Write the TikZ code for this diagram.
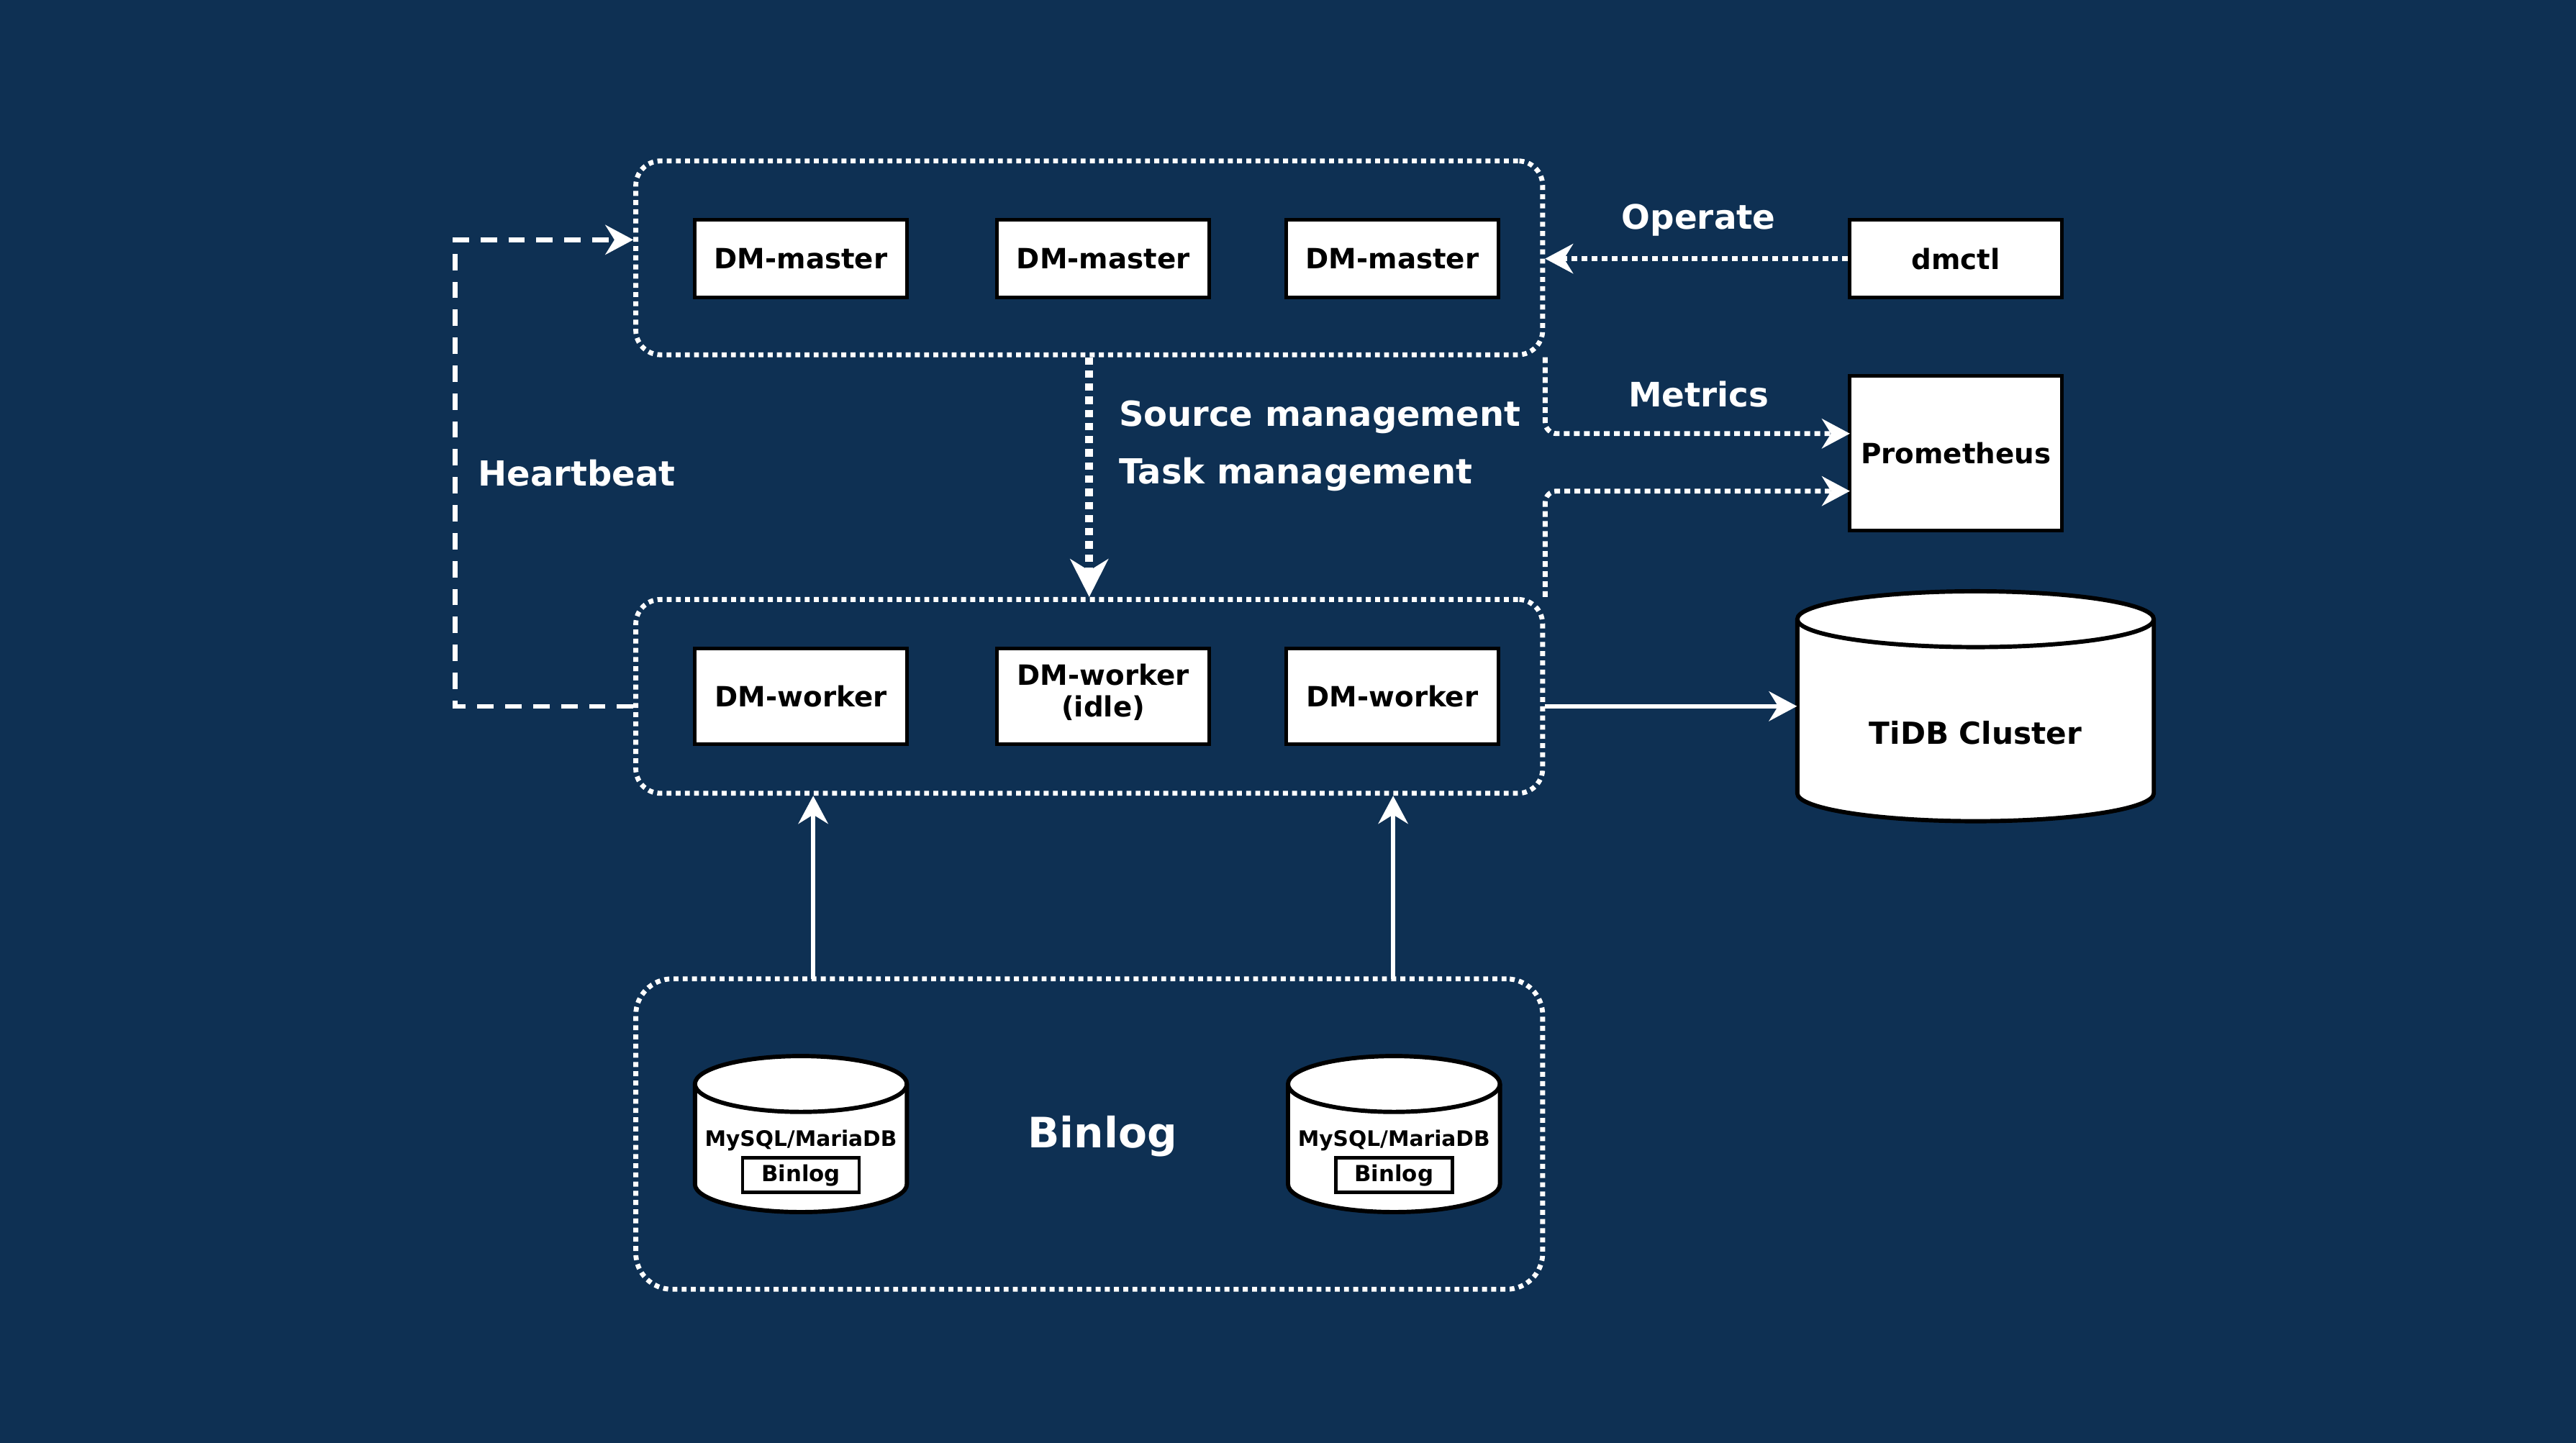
\documentclass[tikz,border=0pt]{standalone}
\usepackage{fontspec}
\setmainfont{DejaVu Sans}
\usetikzlibrary{arrows.meta}
\definecolor{bgc}{HTML}{0E3053}
\newcommand\mycyl[6]{%
  \draw[cylst] (#1,{#2+#6}) -- (#1,{#4-#6}) arc[start angle=180,end angle=360,x radius=#5pt,y radius=#6pt] -- (#3,{#2+#6}) arc[start angle=0,end angle=180,x radius=#5pt,y radius=#6pt] -- cycle;
  \draw[cylst,fill=none] (#1,{#2+#6}) arc[start angle=180,end angle=360,x radius=#5pt,y radius=#6pt];}
\begin{document}
\begin{tikzpicture}[x=1pt,y=-1pt,
  box/.style={draw=black, fill=white, line width=2.2pt, inner sep=0pt, text=black,
    font=\fontsize{17}{19}\selectfont\bfseries, align=center},
  grp/.style={draw=white, line width=3pt, dash pattern=on 3pt off 2.6pt, rounded corners=15pt, inner sep=0pt},
  cylst/.style={draw=black, fill=white, line width=2.6pt},
  wlbl/.style={text=white, font=\fontsize{21}{24}\selectfont\bfseries, inner sep=0pt},
  blbl/.style={text=black, inner sep=0pt},
  tipa/.style={-{Stealth[length=17pt,width=18pt,inset=5.5pt]}},
  dotarrow/.style={draw=white, line width=3pt, dash pattern=on 3.5pt off 2.6pt, tipa},
  bigdot/.style={draw=white, line width=5pt, dash pattern=on 4.5pt off 3.5pt, -{Stealth[length=23pt,width=23pt,inset=7pt]}},
  dasharrow/.style={draw=white, line width=2.8pt, dash pattern=on 10pt off 7pt, tipa},
  solidarrow/.style={draw=white, line width=2.8pt, tipa}
]
\fill[bgc] (0,0) rectangle (1568,878.6);
\useasboundingbox (0,0) rectangle (1568,878.6);

% groups
\node[grp, minimum width=552pt, minimum height=118pt] (mg) at (663,157) {};
\node[grp, minimum width=552pt, minimum height=118pt] (wg) at (663,424) {};
\node[grp, minimum width=552pt, minimum height=189pt, rounded corners=22pt] (bgp) at (663,690.5) {};

% masters
\node[box, minimum width=129pt, minimum height=47pt] (m1) at (487.5,157.5) {DM-master};
\node[box, minimum width=129pt, minimum height=47pt] (m2) at (671.5,157.5) {DM-master};
\node[box, minimum width=129pt, minimum height=47pt] (m3) at (847.5,157.5) {DM-master};

% workers
\node[box, minimum width=129pt, minimum height=58pt] (w1) at (487.5,424) {DM-worker};
\node[box, minimum width=129pt, minimum height=58pt] (w2) at (671.5,424) {};
\node[blbl, font=\fontsize{17}{19}\selectfont\bfseries, align=center] (w2t) at (671.5,421.5) {DM-worker\\(idle)};
\node[box, minimum width=129pt, minimum height=58pt] (w3) at (847.5,424) {DM-worker};

% dmctl, prometheus
\node[box, minimum width=129pt, minimum height=47pt] (dmctl) at (1190.5,157.5) {dmctl};
\node[box, minimum width=129pt, minimum height=94pt] (prom) at (1190.5,276) {Prometheus};

% TiDB cylinder
\node[minimum width=217pt, minimum height=140pt, inner sep=0pt] (tidb) at (1202.5,430) {};
\mycyl{1094}{360}{1311}{500}{108.5}{17}
\node[blbl, font=\fontsize{18.5}{21}\selectfont\bfseries] (tidbt) at (1202.5,446) {TiDB Cluster};

% MySQL cylinders
\node[minimum width=129pt, minimum height=95pt, inner sep=0pt] (db1) at (487.5,690.5) {};
\mycyl{423}{643}{552}{738}{64.5}{17}
\node[blbl, font=\fontsize{13}{15}\selectfont\bfseries] (db1t) at (487.5,694.5) {MySQL/MariaDB};
\node[draw=black, line width=2pt, fill=white, minimum width=71pt, minimum height=21pt, inner sep=0pt,
  font=\fontsize{13.5}{15}\selectfont\bfseries] (db1b) at (487.5,715.5) {Binlog};

\node[minimum width=129pt, minimum height=95pt, inner sep=0pt] (db2) at (848.5,690.5) {};
\mycyl{784}{643}{913}{738}{64.5}{17}
\node[blbl, font=\fontsize{13}{15}\selectfont\bfseries] (db2t) at (848.5,694.5) {MySQL/MariaDB};
\node[draw=black, line width=2pt, fill=white, minimum width=71pt, minimum height=21pt, inner sep=0pt,
  font=\fontsize{13.5}{15}\selectfont\bfseries] (db2b) at (848.5,715.5) {Binlog};

\node[wlbl, font=\fontsize{25.5}{28}\selectfont\bfseries] (binlogt) at (671,692) {Binlog};

% labels
\node[wlbl, anchor=west] (hbt) at (291,288) {Heartbeat};
\node[wlbl, anchor=west] (smt) at (681,254) {Source management};
\node[wlbl, anchor=west] (tmt) at (681,289) {Task management};
\node[wlbl, font=\fontsize{20.5}{23}\selectfont\bfseries] (opt) at (1034,134) {Operate};
\node[wlbl, font=\fontsize{20.5}{23}\selectfont\bfseries] (met) at (1034,240) {Metrics};

% connectors
\coordinate (hb1) at (277,430);
\coordinate (hb2) at (277,146);
\draw[dasharrow] (wg.west |- hb1) -- (hb1) -- (hb2) -- (hb2 -| mg.west);

\draw[bigdot] (mg.south) -- (wg.north);
\draw[dotarrow] (dmctl.west) -- (dmctl.west -| mg.east);

\coordinate (pin1) at (1126,264);
\coordinate (pin2) at (1126,299);
\draw[dotarrow, rounded corners=7pt] (mg.south east) |- (pin1);
\draw[dotarrow, rounded corners=7pt] (wg.north east) |- (pin2);

\draw[solidarrow] (wg.east |- tidb.west) -- (tidb.west);

\coordinate (a1) at (495,596);
\coordinate (a2) at (848,596);
\draw[solidarrow] (a1) -- (a1 |- wg.south);
\draw[solidarrow] (a2) -- (a2 |- wg.south);
\end{tikzpicture}
\end{document}
